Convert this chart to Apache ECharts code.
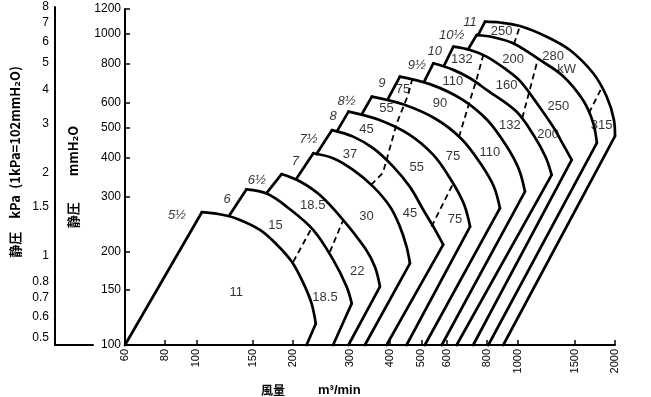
<!DOCTYPE html>
<html>
<head>
<meta charset="utf-8">
<script src="https://cdn.jsdelivr.net/npm/echarts@6/dist/echarts.min.js"></script>
<style>
  html, body { margin: 0; padding: 0; background: #fff; }
  #chart { width: 651px; height: 397px; }
</style>
</head>
<body>
<div id="chart"></div>
<script>
// axis ticks
const flowTicks = [60, 80, 100, 150, 200, 300, 400, 500, 600, 800, 1000, 1500, 2000]
const pressureTicks = [100, 150, 200, 300, 400, 500, 600, 800, 1000, 1200]
const kpaTicks = [0.5, 0.6, 0.7, 0.8, 1, 1.5, 2, 3, 4, 5, 6, 7, 8]

// fan sizes (No.) and their outlines, [flow m3/min, static pressure mmH2O]
const fanSizes = ['5½', '6', '6½', '7', '7½', '8', '8½', '9', '9½', '10', '10½', '11']

const fanLeft = [
  [[60, 100], [104, 267]],
  [[127, 262], [143, 316]],
  [[165, 307], [184, 354]],
  [[205, 343], [231, 413]],
  [[236, 410], [264, 490]],
  [[274, 487], [297, 562]],
  [[327, 552], [351, 628]],
  [[394, 617], [429, 728]],
  [[510, 700], [545, 803]],
  [[588, 788], [629, 908]],
  [[699, 890], [743, 990]],
  [[750, 987], [789, 1093]]
]

const fanArc = [
  [[104, 267], [118, 263], [133, 255], [158, 234], [178, 210], [198, 185], [215, 158], [228, 136], [235, 117]],
  [[143, 316], [166, 306], [191, 278], [231, 234], [266, 188], [293, 154], [304, 136]],
  [[184, 354], [210, 335], [242, 303], [286, 252], [335, 204], [359, 178], [372, 154]],
  [[231, 413], [266, 398], [307, 365], [355, 322], [400, 278], [429, 240], [450, 207], [461, 183]],
  [[264, 490], [307, 467], [355, 428], [409, 374], [461, 322], [507, 272], [550, 236], [585, 210]],
  [[297, 562], [369, 529], [459, 474], [546, 407], [621, 337], [678, 284], [709, 240]],
  [[351, 628], [441, 592], [555, 532], [667, 459], [765, 382], [839, 324], [878, 275]],
  [[429, 728], [537, 686], [671, 614], [803, 527], [918, 437], [1004, 368], [1050, 311]],
  [[545, 803], [629, 765], [709, 719], [798, 660], [986, 563], [1120, 470], [1218, 401], [1271, 352]],
  [[629, 908], [709, 886], [798, 844], [921, 765], [1013, 705], [1142, 599], [1283, 503], [1388, 436], [1467, 393]],
  [[743, 990], [837, 974], [965, 931], [1169, 823], [1378, 731], [1590, 612], [1708, 520], [1757, 446]],
  [[789, 1093], [878, 1086], [1013, 1058], [1226, 978], [1448, 886], [1711, 746], [1884, 628], [1985, 528], [2000, 469]]
]

const fanRight = [
  [[235, 117], [220, 100]],
  [[304, 136], [266, 100]],
  [[372, 154], [297, 100]],
  [[461, 183], [334, 100]],
  [[585, 210], [390, 100]],
  [[709, 240], [450, 100]],
  [[878, 275], [513, 100]],
  [[1050, 311], [579, 100]],
  [[1271, 352], [644, 100]],
  [[1467, 393], [725, 100]],
  [[1757, 446], [808, 100]],
  [[2000, 469], [899, 100]]
]

const fanLabelPos = [
  [87, 260], [124.5, 294], [154, 339], [203, 388], [223, 456], [266, 541],
  [293, 605], [377, 693], [484, 793], [551, 875], [621, 990], [709, 1085]
]

// motor limit lines (dashed)
const motorLines = [
  [[200, 185], [228, 237]],
  [[260, 199], [286, 252]],
  [[349, 327], [380, 357], [420, 517], [455, 636], [468, 710]],
  [[538, 240], [629, 331]],
  [[655, 466], [709, 612], [739, 700], [778, 848]],
  [[1030, 536], [1152, 829]],
  [[971, 927], [1013, 1058]],
  [[1660, 556], [1820, 672]]
]

// motor output kW labels: [text, flow, pressure]
const motorLabels = [
  ['11', 133, 147], ['15', 176, 243], ['18.5', 251, 142], ['18.5', 230, 280],
  ['22', 316, 172], ['30', 338, 258], ['37', 300, 408], ['45', 338, 494],
  ['45', 461, 264], ['55', 390, 575], ['55', 484, 372], ['75', 439, 664],
  ['75', 627, 403], ['75', 636, 254], ['90', 572, 598], ['110', 627, 701],
  ['110', 817, 415], ['132', 668, 828], ['132', 943, 509], ['160', 921, 684],
  ['200', 965, 828], ['200', 1240, 473], ['250', 889, 1015], ['250', 1333, 583],
  ['280', 1285, 844], ['kW', 1415, 765], ['315', 1817, 509]
]

const FONT = "'Liberation Sans', 'DejaVu Sans', 'Noto Sans CJK JP', sans-serif"
const CJK = "'Noto Sans CJK JP', 'DejaVu Sans', sans-serif"
const plain = v => String(+Number(v).toPrecision(4))

const chart = echarts.init(document.getElementById('chart'), null, { renderer: 'canvas' })

const outline = (data, smooth) => ({
  type: 'line',
  xAxisIndex: 0,
  yAxisIndex: 0,
  data,
  smooth,
  symbol: 'none',
  clip: false,
  silent: true,
  z: 3,
  lineStyle: { color: '#000', width: 2.7, cap: 'round', join: 'round' }
})

const series = []
fanSizes.forEach((name, i) => {
  series.push(outline(fanLeft[i], false))
  series.push(outline(fanArc[i], 0.35))
  series.push(outline(fanRight[i], false))
})

motorLines.forEach(line => {
  series.push({
    type: 'line',
    data: line,
    symbol: 'none',
    silent: true,
    clip: false,
    z: 2,
    lineStyle: { color: '#000', width: 1.8, type: [6, 4] }
  })
})

series.push({
  type: 'scatter',
  data: motorLabels.map(d => ({ value: [d[1], d[2]], name: d[0] })),
  symbolSize: 1,
  itemStyle: { color: 'rgba(0,0,0,0)' },
  silent: true,
  z: 5,
  label: {
    show: true,
    position: 'inside',
    formatter: '{b}',
    color: '#000',
    fontSize: 13,
    fontFamily: FONT
  }
})

series.push({
  type: 'scatter',
  data: fanSizes.map((s, i) => ({ value: fanLabelPos[i], name: s })),
  symbolSize: 1,
  itemStyle: { color: 'rgba(0,0,0,0)' },
  silent: true,
  z: 5,
  label: {
    show: true,
    position: 'inside',
    formatter: '{b}',
    color: '#000',
    fontSize: 13,
    fontStyle: 'italic',
    fontFamily: FONT
  }
})

const option = {
  animation: false,
  backgroundColor: '#fff',
  grid: [
    { left: 125, right: 36, top: 9, bottom: 52 },
    { left: 55, right: 558, top: 7, bottom: 52 }
  ],
  xAxis: [
    {
      type: 'log',
      gridIndex: 0,
      min: 60,
      max: 2000,
      axisLine: { lineStyle: { color: '#000', width: 2 } },
      axisTick: { inside: true, length: 5, customValues: flowTicks, lineStyle: { color: '#000', width: 1.5 } },
      axisLabel: {
        customValues: flowTicks,
        formatter: plain,
        rotate: 90,
        margin: 4,
        color: '#000',
        fontSize: 11,
        fontFamily: FONT
      },
      splitLine: { show: false },
      minorTick: { show: false }
    },
    {
      type: 'value',
      gridIndex: 1,
      min: 0,
      max: 1,
      axisLine: { lineStyle: { color: '#000', width: 2 } },
      axisTick: { show: false },
      axisLabel: { show: false },
      splitLine: { show: false }
    }
  ],
  yAxis: [
    {
      type: 'log',
      gridIndex: 0,
      min: 100,
      max: 1200,
      name: '静圧\u3000\u3000mmH₂O',
      nameLocation: 'middle',
      nameRotate: 90,
      nameGap: 45,
      nameTextStyle: { color: '#000', fontSize: 13, fontWeight: 'bold', fontFamily: CJK },
      axisLine: { lineStyle: { color: '#000', width: 2 } },
      axisTick: { inside: true, length: 5, customValues: pressureTicks, lineStyle: { color: '#000', width: 1.5 } },
      axisLabel: {
        customValues: pressureTicks,
        formatter: plain,
        margin: 4,
        color: '#000',
        fontSize: 12,
        fontFamily: FONT
      },
      splitLine: { show: false },
      minorTick: { show: false }
    },
    {
      type: 'log',
      gridIndex: 1,
      min: 0.472,
      max: 8,
      axisLine: { lineStyle: { color: '#000', width: 2 } },
      axisTick: { show: false, customValues: kpaTicks },
      axisLabel: {
        customValues: kpaTicks,
        formatter: plain,
        margin: 6,
        color: '#000',
        fontSize: 12,
        fontFamily: FONT
      },
      splitLine: { show: false },
      minorTick: { show: false }
    }
  ],
  graphic: [
    {
      type: 'text',
      x: 15,
      y: 162,
      rotation: Math.PI / 2,
      silent: true,
      style: {
        text: '静圧\u2003kPa\u2002(1kPa=102mmH₂O)',
        font: "bold 13px 'Noto Sans CJK JP', 'DejaVu Sans', sans-serif",
        fill: '#000',
        align: 'center',
        verticalAlign: 'middle'
      }
    },
    {
      type: 'text',
      x: 273,
      y: 390,
      silent: true,
      style: {
        text: '風量',
        font: "bold 12px 'Noto Sans CJK JP', sans-serif",
        fill: '#000',
        align: 'center',
        verticalAlign: 'middle'
      }
    },
    {
      type: 'text',
      x: 318,
      y: 390,
      silent: true,
      style: {
        text: 'm³/min',
        font: "bold 13px 'Liberation Sans', 'DejaVu Sans', sans-serif",
        fill: '#000',
        align: 'left',
        verticalAlign: 'middle'
      }
    }
  ],
  series
}

chart.setOption(option)
window.addEventListener('resize', () => chart.resize())
</script>
</body>
</html>
